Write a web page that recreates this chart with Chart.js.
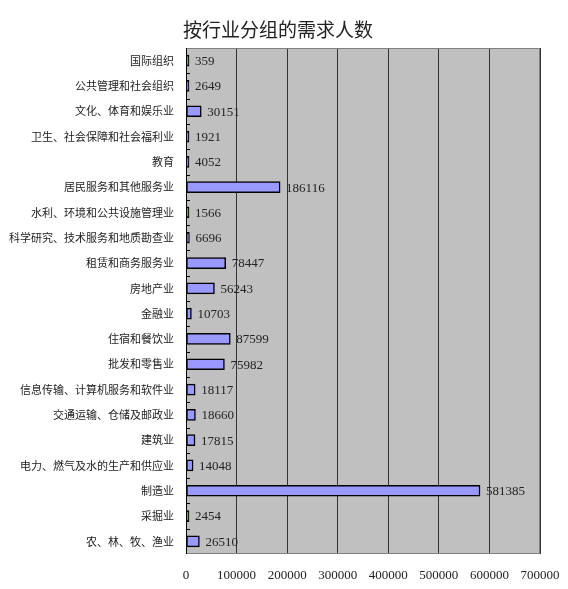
<!DOCTYPE html>
<html>
<head>
<meta charset="utf-8">
<script src="https://cdn.jsdelivr.net/npm/chart.js@4/dist/chart.umd.min.js"></script>
<style>
html,body{margin:0;padding:0;background:#fff;}
#wrap{width:568px;height:589px;position:relative;}
</style>
</head>
<body>
<div id="wrap"><canvas id="c" width="568" height="589"></canvas></div>
<script>
const title = '按行业分组的需求人数';
const categories = ['国际组织','公共管理和社会组织','文化、体育和娱乐业','卫生、社会保障和社会福利业','教育','居民服务和其他服务业','水利、环境和公共设施管理业','科学研究、技术服务和地质勘查业','租赁和商务服务业','房地产业','金融业','住宿和餐饮业','批发和零售业','信息传输、计算机服务和软件业','交通运输、仓储及邮政业','建筑业','电力、燃气及水的生产和供应业','制造业','采掘业','农、林、牧、渔业'];
const demand = [359,2649,30151,1921,4052,186116,1566,6696,78447,56243,10703,87599,75982,18117,18660,17815,14048,581385,2454,26510];
const xTicks = [0,100000,200000,300000,400000,500000,600000,700000];

const PLOT = {left:186, right:540, top:48, bottom:554};

const bgPlugin = {
  id:'bg',
  beforeDraw(chart){
    const {ctx, chartArea:a} = chart;
    ctx.save();
    ctx.fillStyle = '#C0C0C0';
    ctx.fillRect(a.left, a.top, a.right-a.left, a.bottom-a.top);
    // title
    ctx.fillStyle = '#222';
    ctx.font = '19px "Noto Sans CJK SC", sans-serif';
    ctx.textAlign = 'center';
    ctx.textBaseline = 'middle';
    ctx.fillText(title, 278, 30);
    ctx.restore();
  },
  afterDatasetsDraw(chart){
    const {ctx, chartArea:a} = chart;
    ctx.save();
    // plot border
    ctx.strokeStyle = '#808080';
    ctx.lineWidth = 1;
    ctx.strokeRect(a.left+0.5, a.top+0.5, a.right-a.left-1, a.bottom-a.top-1);
    // left axis
    ctx.strokeStyle = '#000';
    ctx.beginPath();
    ctx.moveTo(a.left+0.5, a.top);
    ctx.lineTo(a.left+0.5, a.bottom);
    ctx.stroke();
    // category boundary ticks
    const n = categories.length;
    const step = (a.bottom - a.top)/n;
    ctx.beginPath();
    for(let i=1;i<n;i++){
      const yy = Math.round(a.top + step*i)+0.5;
      ctx.moveTo(a.left, yy);
      ctx.lineTo(a.left+4, yy);
    }
    ctx.stroke();
    // value labels
    const meta = chart.getDatasetMeta(0);
    ctx.font = '13px "Liberation Serif", "DejaVu Serif", serif';
    ctx.fillStyle = '#222';
    ctx.textBaseline = 'middle';
    ctx.textAlign = 'left';
    meta.data.forEach((bar, i) => {
      const endX = Math.max(bar.x, a.left+3);
      ctx.fillText(String(demand[i]), endX + 6, bar.y + 1);
    });
    ctx.restore();
  }
};

new Chart(document.getElementById('c'), {
  type:'bar',
  data:{
    labels: categories,
    datasets:[{
      data: demand,
      backgroundColor:'#9999FF',
      borderColor:'#000000',
      borderWidth:1.5,
      borderSkipped:false,
      barThickness:11,
      minBarLength:3
    }]
  },
  options:{
    indexAxis:'y',
    responsive:false,
    animation:false,
    layout:{padding:{left:0,right:568-PLOT.right,top:PLOT.top,bottom:0}},
    plugins:{
      legend:{display:false},
      tooltip:{enabled:false},
      title:{display:false}
    },
    scales:{
      x:{
        type:'linear',
        min:0, max:700000,
        afterBuildTicks(scale){ scale.ticks = xTicks.map(v=>({value:v})); },
        afterFit(scale){ scale.height = 589 - PLOT.bottom; scale.paddingRight = 0; scale.paddingLeft = 0; },
        grid:{color:'#333', lineWidth:1, drawTicks:false},
        border:{display:false},
        ticks:{
          padding:14,
          color:'#222',
          font:{family:'"Liberation Serif", serif', size:13},
          callback:(v)=>String(v)
        }
      },
      y:{
        afterFit(scale){ scale.width = PLOT.left; scale.paddingTop = 0; scale.paddingBottom = 0; },
        grid:{display:false},
        border:{display:false},
        ticks:{
          padding:4,
          color:'#222',
          font:{family:'"Noto Sans CJK SC", sans-serif', size:11}
        }
      }
    }
  },
  plugins:[bgPlugin]
});
</script>
</body>
</html>
